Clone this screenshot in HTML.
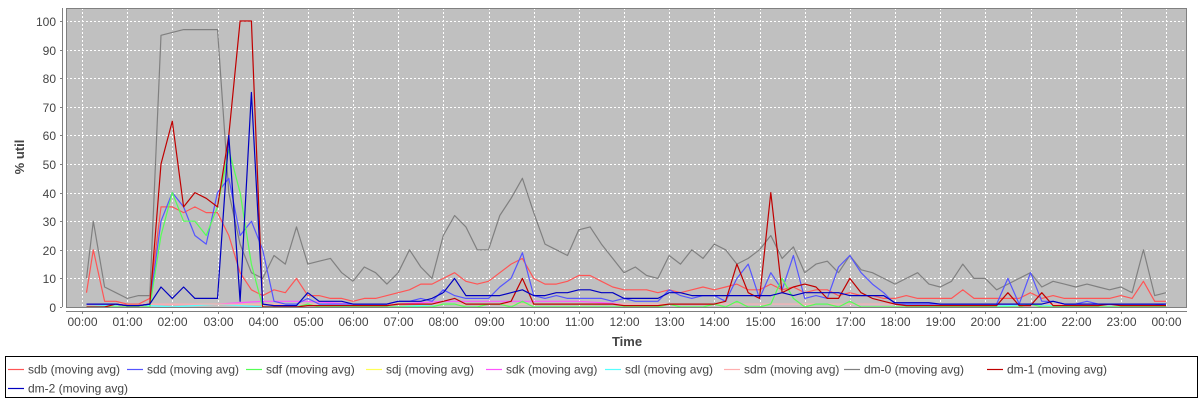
<!DOCTYPE html>
<html><head><meta charset="utf-8"><style>
body{margin:0;background:#fff;width:1200px;height:400px;overflow:hidden;font-family:"Liberation Sans",sans-serif}
svg text{font-family:"Liberation Sans","DejaVu Sans",sans-serif}
</style></head><body>
<svg id="chart" width="1200" height="400" xmlns="http://www.w3.org/2000/svg"></svg>
<script>
const yTicks=[0,10,20,30,40,50,60,70,80,90,100];
const xTickLabels=["00:00","01:00","02:00","03:00","04:00","05:00","06:00","07:00","08:00","09:00","10:00","11:00","12:00","13:00","14:00","15:00","16:00","17:00","18:00","19:00","20:00","21:00","22:00","23:00","00:00"];
const seriesNames=["sdb (moving avg)","sdd (moving avg)","sdf (moving avg)","sdj (moving avg)","sdk (moving avg)","sdl (moving avg)","sdm (moving avg)","dm-0 (moving avg)","dm-1 (moving avg)","dm-2 (moving avg)"];
const seriesColors=["#ff5555","#5555ff","#55ff55","#ffff55","#ff55ff","#55ffff","#ffafaf","#808080","#c00000","#0000c0"];
// quarter-hour values (97 points, 00:00..24:00); short arrays = hourly
const sdm=[1,1,1,1,1,1,1,1,1,1,1,1,1,1,1,1,1,1,1,1,1,1,1,1,1];
const sdl=[0,1,0,1,0,1,0,0,1,1,1,1,1,1,1,1,1,1,1,0,0,1,0,0,0];
const sdk=[1,1,1,1,2,2,1,1,2,2,2,2,1,1,1,1,1,1,1,1,1,1,1,1,1];
const sdj=[1,1,1,1,1,1,1,1,1,1,1,1,1,1,1,1,1,1,1,1,1,1,1,1,1];
const sdf=[0,0,0,0,0,0,0,25,40,30,30,25,35,55,40,15,0,0,0,0,1,0,0,0,0,0,0,0,0,0,0,0,1,1,0,0,1,1,0,2,0,0,0,0,0,0,0,0,0,0,0,0,1,0,0,0,1,0,2,0,0,1,10,3,0,1,1,0,2,0,0,0,0,0,0,0,0,0,0,0,0,0,0,0,1,0,0,0,0,0,0,0,0,0,0,0,0];
const dm2=[1,1,1,1,0.5,0.5,1,7,3,7,3,3,3,60,2,75,1,0.5,0.5,0.5,5,2,2,2,1,1,1,1,2,2,2,3,5,10,4,4,4,4,5,6,4,4,5,5,6,6,5,5,3,3,3,3,5,5,4,4,4,4,4,4,4,4,5,4,5,5,5,5,4,4,4,4,1.5,1.5,1.5,1.5,1,1,1,1,1,1,1,1,1,1,2,1,1,1,1,1,1,1,1,1,1];
const dm1=[0,0,0,1,0.5,0.5,1,50,65,35,40,38,35,60,100,100,0,0,0,0,0.5,0.5,0.5,0.5,0.5,0.5,0.5,0.5,1,1,1,1,2,3,1,1,1,1,2,10,1,1,1,1,1,1,1,1,0.5,0.5,0.5,0.5,1,1,1,1,1,2,15,5,3,40,5,7,8,7,3,3,10,5,3,2,1,0.5,0.5,0.5,0.5,0.5,0.5,0.5,0.5,0.5,5,0.5,0.5,5,0.5,0.5,0.5,0.5,0.5,1,0.5,0.5,0.5,0.5,0.5];
const dm0=[10,30,7,5,3,4,4,95,96,97,97,97,97,40,22,12,10,18,15,28,15,16,17,12,9,14,12,8,12,20,14,10,25,32,28,20,20,32,38,45,33,22,20,18,27,28,22,17,12,14,11,10,18,15,20,17,22,20,15,17,20,25,17,21,12,15,16,12,18,13,12,10,8,10,12,8,7,9,15,10,10,6,8,10,12,7,9,8,7,8,7,6,7,5,20,4,5];
const sdd=[1,1,1,1,0.5,0.5,1,30,40,35,25,22,40,45,25,30,20,2,1,1,3,1,1,1,1,1,1,1,2,2,3,2,6,4,3,3,3,7,10,19,4,3,4,3,3,3,3,2,3,2,2,2,6,4,3,4,4,2,10,15,3,12,6,18,3,4,3,14,18,12,8,5,1,1,1,1,1,1,1,1,1,1,10,1,12,2,2,1,1,2,1,1,1,1,1,1,0.5];
const sdb=[5,20,2,2,1,1,3,35,35,33,35,33,33,25,12,6,4,6,5,10,4,4,3,3,2,3,3,4,5,6,8,8,10,12,9,8,9,12,15,17,10,8,8,9,11,11,9,7,6,6,6,5,6,5,6,7,6,7,8,6,6,8,6,7,5,6,6,4,5,4,4,3,3,4,3,3,3,3,6,3,3,3,3,3,5,3,4,3,3,3,3,3,4,3,9,2,2];
const seriesData=[sdb,sdd,sdf,sdj,sdk,sdl,sdm,dm0,dm1,dm2];

const NS="http://www.w3.org/2000/svg";
const svg=document.getElementById('chart');
const L=66,R=1187,T=8,B=307;
const X0=82,PXH=(1166-82)/24;
const xs=h=>X0+h*PXH;
const ys=v=>307-v*2.86;
function mk(tag,at,parent){const e=document.createElementNS(NS,tag);for(const k in at)e.setAttribute(k,at[k]);(parent||svg).appendChild(e);return e;}
let e=mk('rect',{x:L,y:T,width:R-L,height:B-T,fill:'#c0c0c0'});


const grid=mk('g',{stroke:'#fff','stroke-width':1,'stroke-dasharray':'2,2'});


yTicks.forEach(v=>{if(v>0)mk('line',{x1:L,x2:R,y1:Math.round(ys(v))+.5,y2:Math.round(ys(v))+.5},grid);});
xTickLabels.forEach((t,i)=>{mk('line',{x1:Math.round(xs(i))+.5,x2:Math.round(xs(i))+.5,y1:T,y2:B},grid);});
const sg=mk('g',{fill:'none','stroke-width':1.2,'stroke-linejoin':'round'});


const drawOrder=[7,3,4,5,6,0,1,2,8,9];
drawOrder.forEach(si=>{const d=seriesData[si];const n=d.length;
 const pts=d.map((v,i)=>{let h=i*24/(n-1);if(h<0.1)h=0.1;return xs(h).toFixed(1)+','+ys(v).toFixed(1)}).join(' ');
 const p=mk('polyline',{points:pts,stroke:seriesColors[si]},sg);
 
 
});
mk('rect',{x:L+.5,y:T+.5,width:R-L-1,height:B-T,fill:'none',stroke:'#808080'});
const ax=mk('g',{stroke:'#808080','stroke-width':1});


mk('line',{x1:62.5,x2:62.5,y1:T,y2:B},ax);
mk('line',{x1:L,x2:R,y1:311.5,y2:311.5},ax);
yTicks.forEach(v=>{const y=Math.round(ys(v))+.5;mk('line',{x1:60,x2:62,y1:y,y2:y},ax);
 const t=mk('text',{x:56,y:y+4.5,'text-anchor':'end','font-size':12,fill:'#444'});t.textContent=v;
 
 });
xTickLabels.forEach((s,i)=>{const x=Math.round(xs(i))+.5;mk('line',{x1:x,x2:x,y1:311,y2:314},ax);
 const t=mk('text',{x:x,y:326,'text-anchor':'middle','font-size':12,fill:'#444'});t.textContent=s;
 
 });
let t=mk('text',{x:627,y:346,'text-anchor':'middle','font-size':13,'font-weight':'bold',fill:'#444'});t.textContent='Time';


t=mk('text',{x:0,y:0,'text-anchor':'middle','font-size':13,'font-weight':'bold',fill:'#444',transform:'translate(24,157) rotate(-90)'});t.textContent='% util';


const lg=mk('g',{});


mk('rect',{x:5.5,y:356.5,width:1192,height:41,fill:'#fff',stroke:'#000'},lg);
const lx=[8,127,246,366,486,605,724,844,987,8];
seriesNames.forEach((n,i)=>{const y=i<9?369:388;
 const g=mk('g',{},lg);
 
 
 mk('line',{x1:lx[i],x2:lx[i]+16,y1:y+.5,y2:y+.5,stroke:seriesColors[i],'stroke-width':1.2},g);
 const tt=mk('text',{x:lx[i]+20,y:y+4.5,'font-size':12,fill:'#444'},g);tt.textContent=n;});
</script>
</body></html>
